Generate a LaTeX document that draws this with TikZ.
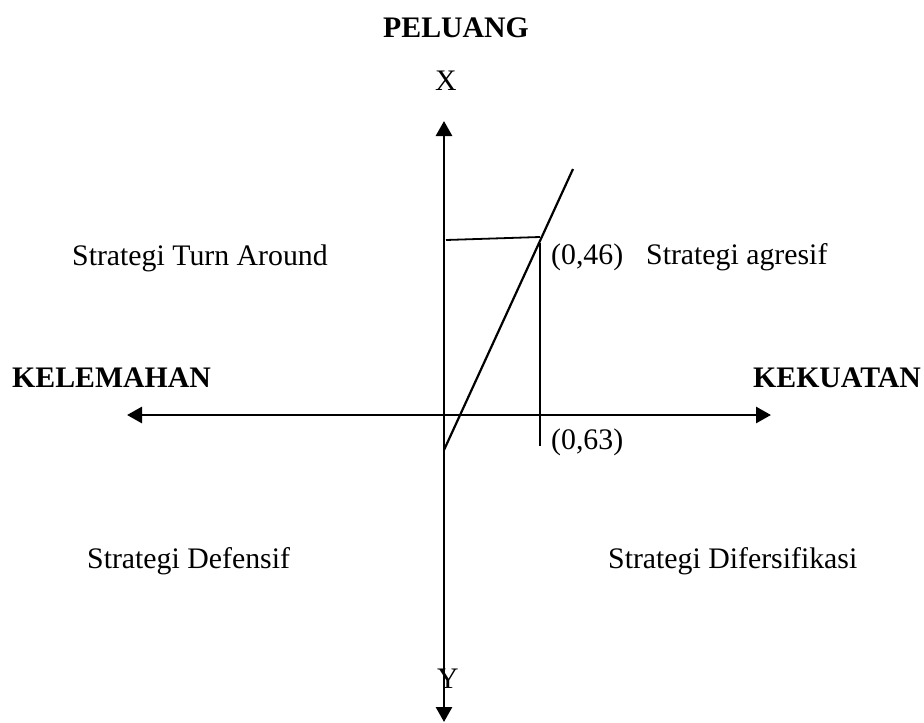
\documentclass[tikz,border=0pt]{standalone}
\usepackage{fontspec}
\setmainfont{Liberation Serif}
\usetikzlibrary{arrows.meta}
\begin{document}
\begin{tikzpicture}[x=1pt,y=-1pt,
  lbl/.style={anchor=base west,inner sep=0pt,font=\fontsize{29.8}{34}\selectfont},
  blbl/.style={lbl,font=\fontsize{29.8}{34}\selectfont\bfseries},
  axisline/.style={line width=2.8pt,-{Triangle[length=15pt,width=16pt]}},
  thinline/.style={line width=1.8pt},
  diagline/.style={line width=2.2pt}]
\useasboundingbox (0,0) rectangle (924,723);
% axes
\coordinate (O) at (444,415);
\coordinate (top) at (444,121);
\coordinate (bot) at (444,722);
\coordinate (left) at (127,415);
\coordinate (right) at (771,415);
\draw[axisline] (O) -- (top);
\draw[axisline] (O) -- (bot);
\draw[axisline] (O) -- (left);
\draw[axisline] (O) -- (right);
% guide lines
\coordinate (h1) at (446,240);
\coordinate (h2) at (540,237);
\coordinate (v1) at (540,243);
\coordinate (v2) at (540,446);
\draw[thinline] (h1) -- (h2);
\draw[thinline] (v1) -- (v2);
\coordinate (d1) at (444,450);
\coordinate (d2) at (573,169);
\draw[diagline] (d1) -- (d2);
% labels
\node[blbl] (peluang) at (383,37) {PELUANG};
\node[lbl] (xl) at (435,90) {X};
\node[lbl] (yl) at (437,688) {Y};
\node[blbl] (kel) at (12,387) {KELEMAHAN};
\node[blbl] (kek) at (753,387) {KEKUATAN};
\node[lbl] (turn) at (72,265) {Strategi Turn Around};
\node[lbl] (p46) at (551,264) {(0,46)};
\node[lbl] (agr) at (646,264) {Strategi agresif};
\node[lbl] (p63) at (551,449) {(0,63)};
\node[lbl] (def) at (87,568) {Strategi Defensif};
\node[lbl] (dif) at (608,568) {Strategi Difersifikasi};
\end{tikzpicture}
\end{document}
